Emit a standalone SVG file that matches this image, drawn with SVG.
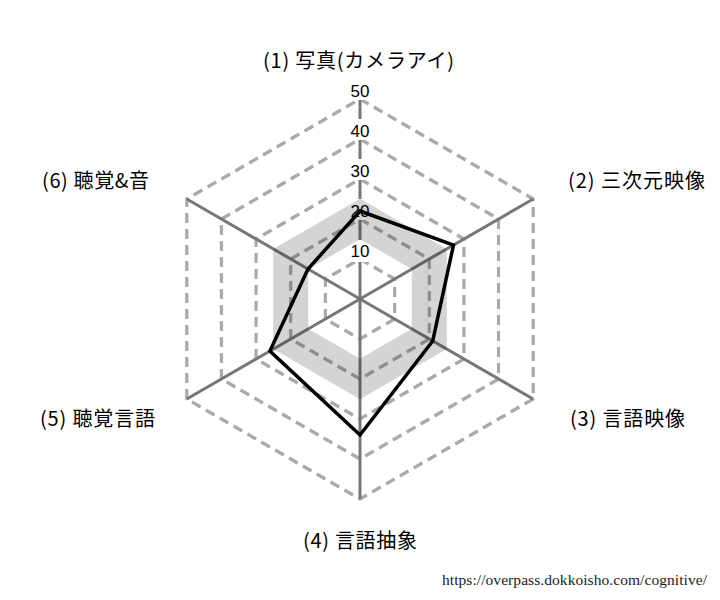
<svg xmlns="http://www.w3.org/2000/svg" width="720" height="600" viewBox="0 0 720 600">
<style>
.ring{fill:none;stroke:#aaaaaa;stroke-width:3.2;stroke-dasharray:10 6}
.axis{stroke:#777777;stroke-width:3}
.band{fill:none;stroke:#000;stroke-opacity:0.17;stroke-width:35;stroke-linejoin:miter}
.data{fill:none;stroke:#000;stroke-width:3.5;stroke-linejoin:miter}
.lbl{font-family:"Noto Sans CJK JP","Noto Sans",sans-serif;font-size:20px;fill:#000}
.num{font-family:"Liberation Sans",Arial,sans-serif;font-size:17px;fill:#000;text-anchor:middle}
.bg{fill:#fff}
.url{font-family:"Liberation Serif","Times New Roman",serif;font-size:15.5px;fill:#222}
</style>
<rect width="720" height="600" fill="#fff"/>
<g id="grid">
<polygon class="ring" points="360,259 394.64,279 394.64,319 360,339 325.36,319 325.36,279"/>
<polygon class="ring" points="360,219 429.28,259 429.28,339 360,379 290.72,339 290.72,259"/>
<polygon class="ring" points="360,179 463.92,239 463.92,359 360,419 256.08,359 256.08,239"/>
<polygon class="ring" points="360,139 498.56,219 498.56,379 360,459 221.44,379 221.44,219"/>
<polygon class="ring" points="360,99 533.21,199 533.21,399 360,499 186.79,399 186.79,199"/>
</g>
<g id="axes">
<line class="axis" x1="360" y1="299" x2="360" y2="99"/>
<line class="axis" x1="360" y1="299" x2="533.21" y2="199"/>
<line class="axis" x1="360" y1="299" x2="533.21" y2="399"/>
<line class="axis" x1="360" y1="299" x2="360" y2="499"/>
<line class="axis" x1="360" y1="299" x2="186.79" y2="399"/>
<line class="axis" x1="360" y1="299" x2="186.79" y2="199"/>
</g>
<g id="scale-bg">
<rect class="bg" x="347" y="79" width="26" height="21"/>
<rect class="bg" x="347" y="119" width="26" height="21"/>
<rect class="bg" x="347" y="159" width="26" height="21"/>
<rect class="bg" x="347" y="199" width="26" height="21"/>
<rect class="bg" x="347" y="240" width="26" height="22"/>
</g>
<g id="band">
<polygon class="band" points="360,219 429.28,259 429.28,339 360,379 290.72,339 290.72,259"/>
</g>
<g id="scale">
<text class="num" x="360" y="97">50</text>
<text class="num" x="360" y="137">40</text>
<text class="num" x="360" y="177">30</text>
<text class="num" x="360" y="217">20</text>
<text class="num" x="360" y="257">10</text>
</g>
<g id="data">
<polygon class="data" points="360,211 453.5,245 432.7,341 360,435 269.9,351 308,269"/>
</g>
<g id="label1"><text class="lbl" x="263" y="68" textLength="191" lengthAdjust="spacing">(1) 写真(カメラアイ)</text></g>
<g id="label2"><text class="lbl" x="568" y="188" textLength="137" lengthAdjust="spacing">(2) 三次元映像</text></g>
<g id="label3"><text class="lbl" x="570" y="426" textLength="115" lengthAdjust="spacing">(3) 言語映像</text></g>
<g id="label4"><text class="lbl" x="303" y="548" textLength="114" lengthAdjust="spacing">(4) 言語抽象</text></g>
<g id="label5"><text class="lbl" x="40" y="426" textLength="115" lengthAdjust="spacing">(5) 聴覚言語</text></g>
<g id="label6"><text class="lbl" x="42" y="188" textLength="107" lengthAdjust="spacing">(6) 聴覚&amp;音</text></g>
<text class="url" x="442" y="585" textLength="265" lengthAdjust="spacing">https://overpass.dokkoisho.com/cognitive/</text>
</svg>
